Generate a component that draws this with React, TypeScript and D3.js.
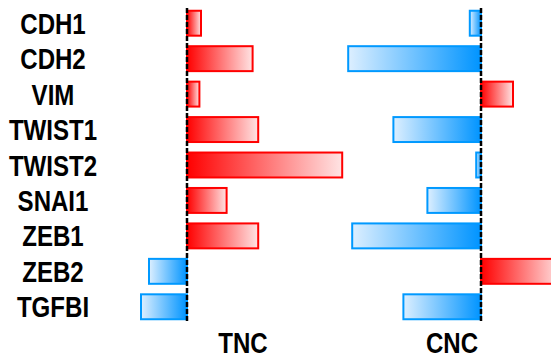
import React from "react";
import * as d3 from "d3";

const genes = ["CDH1", "CDH2", "VIM", "TWIST1", "TWIST2", "SNAI1", "ZEB1", "ZEB2", "TGFBI"];
const tncValues = [0.35, 1.64, 0.31, 1.78, 3.88, 0.99, 1.78, -0.95, -1.15];
const cncValues = [-0.28, -3.32, 0.8, -2.19, -0.12, -1.34, -3.22, 2.0, -1.94];
const panelNames = ["TNC", "CNC"];

const W = 551;
const H = 363;
const FONT = "'Liberation Sans', Arial, sans-serif";
const NARROW = 0.83;

export default function App() {
  const y = d3.scaleBand<string>().domain(genes).range([5.5, 324.5]).paddingInner(0.24).paddingOuter(0.12);
  const panels = [
    { name: panelNames[0], values: tncValues, x: d3.scaleLinear().domain([0, 1]).range([187, 227]), labelX: 243 },
    { name: panelNames[1], values: cncValues, x: d3.scaleLinear().domain([0, 1]).range([481, 521]), labelX: 452 },
  ];
  return (
    <svg width={W} height={H} style={{ position: "absolute", left: 0, top: 0, background: "#fff" }}>
      <defs>
        <linearGradient id="gRed" x1="0" x2="1" y1="0" y2="0">
          <stop offset="0" stopColor="#ff0000" />
          <stop offset="1" stopColor="#ffe4e4" />
        </linearGradient>
        <linearGradient id="gBlue" x1="0" x2="1" y1="0" y2="0">
          <stop offset="0" stopColor="#ddefff" />
          <stop offset="1" stopColor="#0094ff" />
        </linearGradient>
      </defs>
      {genes.map((g) => (
        <text
          key={g}
          transform={`translate(53,${(y(g) as number) + y.bandwidth() / 2 + 10.5}) scale(${NARROW},1)`}
          textAnchor="middle"
          fontFamily={FONT}
          fontWeight="bold"
          fontSize={29}
          fill="#000"
        >
          {g}
        </text>
      ))}
      {panels.map((p) => {
        const x0 = p.x(0);
        return (
          <g key={p.name}>
            {genes.map((g, i) => {
              const v = p.values[i];
              const xv = p.x(v);
              const pos = v >= 0;
              return (
                <rect
                  key={g}
                  x={Math.min(x0, xv)}
                  y={(y(g) as number) + 1}
                  width={Math.abs(xv - x0)}
                  height={y.bandwidth() - 2}
                  fill={pos ? "url(#gRed)" : "url(#gBlue)"}
                  stroke={pos ? "#ff0000" : "#0099ff"}
                  strokeWidth={2}
                />
              );
            })}
            <line x1={x0} x2={x0} y1={8} y2={323} stroke="#000" strokeWidth={2.5} strokeDasharray="5,2" />
            <text
              transform={`translate(${p.labelX},353) scale(${NARROW},1)`}
              textAnchor="middle"
              fontFamily={FONT}
              fontWeight="bold"
              fontSize={29}
              fill="#000"
            >
              {p.name}
            </text>
          </g>
        );
      })}
    </svg>
  );
}
